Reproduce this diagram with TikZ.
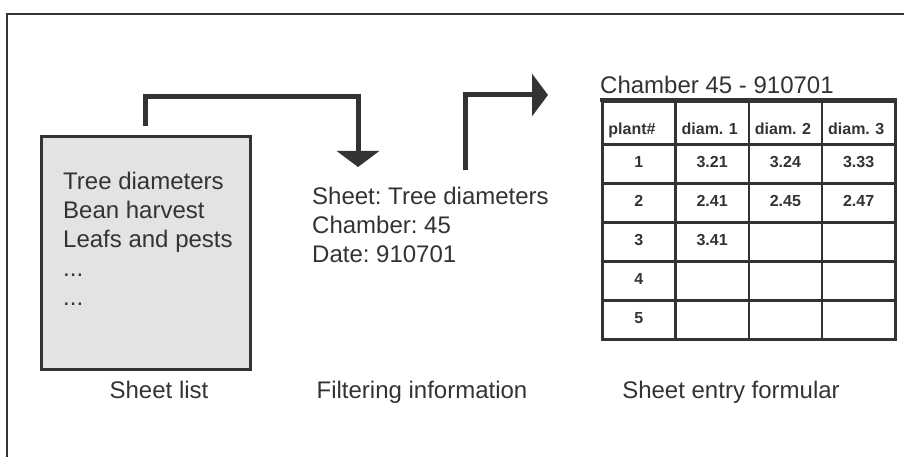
\documentclass[tikz,border=0pt]{standalone}
\usepackage{fontspec}
\setmainfont{Liberation Sans}
\usepackage{tikz}
\usetikzlibrary{arrows.meta, positioning, matrix}
\definecolor{ink}{HTML}{333333}
\frenchspacing

\begin{document}
\begin{tikzpicture}[
  x=1pt, y=-1pt,
  every node/.style={font=\fontsize{24}{29}\selectfont, text=ink},
  listbox/.style={rectangle, draw=ink, line width=3pt, fill=gray!22,
                  minimum width=209pt, minimum height=232pt},
  undertext/.style={anchor=base},
  bigarrow/.style={draw=ink, line width=5pt, line join=miter,
                   -{Triangle[width=42pt,length=16pt]}},
  cell/.style={draw=ink, line width=2.5pt, minimum width=73.25pt,
               minimum height=39pt, inner sep=0pt, outer sep=0pt,
               anchor=center, text height=11.5pt, text depth=5pt,
               font=\fontsize{16}{19}\selectfont\bfseries},
  headcell/.style={minimum height=43pt, text height=23pt, text depth=0pt,
                   text width=61pt, align=left},
]
  \useasboundingbox (0,0) rectangle (904,457);
  \draw[ink, line width=2pt] (7,457) -- (7,14) -- (904,14);

  \node[listbox] (list) at (145.5,253) {};
  \node[anchor=north west, align=left, inner sep=0pt] (sheets) at (63,172)
    {Tree diameters\\Bean harvest\\Leafs and pests\\...\\...};

  \node[anchor=north west, align=left, inner sep=0pt] (filter) at (312,187)
    {Sheet: Tree diameters\\Chamber: 45\\Date: 910701};

  \node[anchor=base west, inner sep=0pt] (title) at (600,94) {Chamber 45 - 910701};
  \matrix (tab) [matrix of nodes, nodes in empty cells, anchor=north west,
                 inner sep=0pt, outer sep=0pt, nodes={cell},
                 column sep=-2.5pt, row sep=-2.5pt,
                 row 1/.style={nodes={headcell}}] at (601,100) {
    plant\# & diam. 1 & diam. 2 & diam. 3 \\
    1 & 3.21 & 3.24 & 3.33 \\
    2 & 2.41 & 2.45 & 2.47 \\
    3 & 3.41 & & \\
    4 & & & \\
    5 & & & \\
  };
  \draw[ink, line width=4pt] (title.base west |- tab.north) -- (tab.north east);

  \coordinate (bend1) at (358,97);
  \coordinate (in1) at (358,167);
  \coordinate (out2) at (465,170);
  \coordinate (tip2) at (548,95);

  \draw[bigarrow, shorten <=9pt] (list.north) |- (bend1) -- (in1);
  \draw[bigarrow] (out2) |- (tip2);

  \node[undertext] (listcap) at (159,398) {Sheet list};
  \node[undertext] (filtcap) at (422,398) {Filtering information};
  \node[undertext] (tabcap) at (731,398) {Sheet entry formular};
\end{tikzpicture}
\end{document}
